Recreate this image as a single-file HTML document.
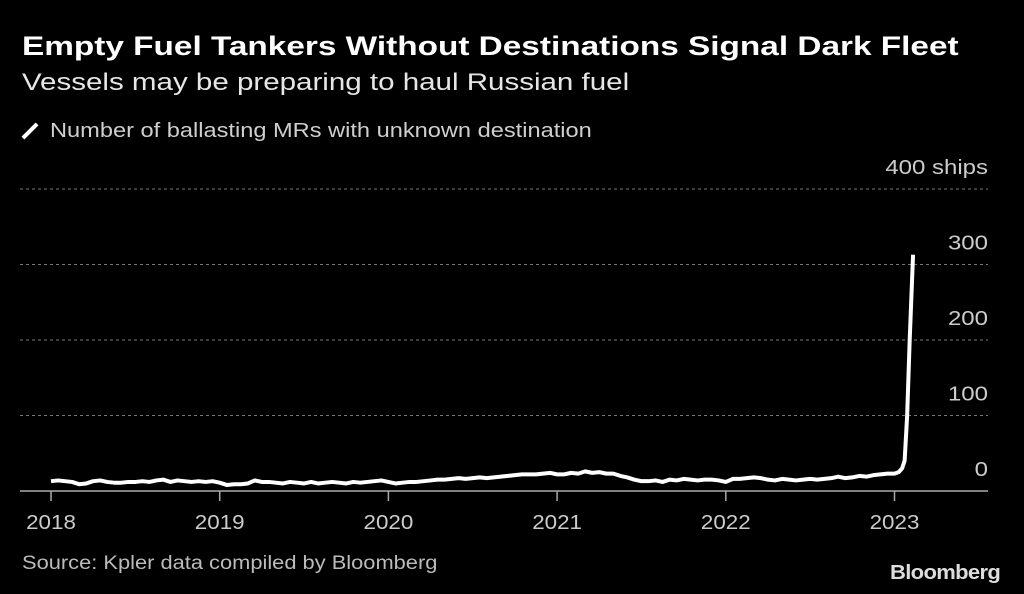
<!DOCTYPE html>
<html><head><meta charset="utf-8"><style>
body{margin:0;background:#000;width:1024px;height:594px;overflow:hidden;font-family:"Liberation Sans",sans-serif;position:relative}
.t{position:absolute;white-space:nowrap;transform-origin:left top}
</style></head><body>
<div class="t" style="left:22px;top:31px;font-size:27px;font-weight:bold;color:#fff;transform:scaleX(1.235)">Empty Fuel Tankers Without Destinations Signal Dark Fleet</div>
<div class="t" style="left:22px;top:69px;font-size:24px;color:#e6e6e6;transform:scaleX(1.23)">Vessels may be preparing to haul Russian fuel</div>
<div class="t" style="left:22px;top:120px;font-size:20px;color:#cfcfcf"><span style="display:inline-block;width:4px;height:20px;background:#fff;transform:rotate(45deg);margin:0 18px -4px 6px;vertical-align:baseline"></span><span style="display:inline-block;transform:scaleX(1.18);transform-origin:left">Number of ballasting MRs with unknown destination</span></div>
<div class="t" style="left:22px;top:553px;font-size:19px;color:#bbb;transform:scaleX(1.15)">Source: Kpler data compiled by Bloomberg</div>
<div class="t" style="left:890px;top:562px;font-size:20px;font-weight:bold;color:#ddd;letter-spacing:-0.6px;transform:scaleX(1.1)">Bloomberg</div>
<svg id="chart" width="1024" height="594" style="position:absolute;left:0;top:0"></svg>
<script>
const yTicks=[0,100,200,300,400];
const yTickLabels=["0","100","200","300","400 ships"];
const xTicks=[2018,2019,2020,2021,2022,2023];
const xTickLabels=["2018","2019","2020","2021","2022","2023"];
const baseValues=[13,14,13,12,9,10,13,14,12,11,11,12,12,13,12,14,15,12,14,13,12,13,12,13,
11,8,9,9,10,14,12,12,11,10,12,11,10,12,10,11,12,11,10,12,11,12,13,14,
12,10,11,12,12,13,14,15,15,16,17,16,17,18,17,18,19,20,21,22,22,22,23,24,
22,22,24,23,26,24,25,23,23,20,18,15,13,13,14,12,15,14,16,15,14,15,15,14,
12,16,16,17,18,17,15,14,16,15,14,15,16,15,16,17,19,17,18,20,19,21,22,23];
const spikeDates=[2023.0,2023.025,2023.045,2023.06,2023.075,2023.09,2023.11];
const spikeValues=[23,25,30,40,100,200,313];
const NS="http://www.w3.org/2000/svg";
const svg=document.getElementById('chart');
const xS=yr=>51+(yr-2018)*168.7;
const yS=v=>491-v*0.755;
function mk(tag,attrs){const e=document.createElementNS(NS,tag);for(const k in attrs)e.setAttribute(k,attrs[k]);svg.appendChild(e);return e;}
yTicks.forEach((v,i)=>{
  if(v>0){const g=mk('line',{x1:20,x2:988,y1:yS(v),y2:yS(v),stroke:'#777','stroke-width':1,'stroke-dasharray':'3,3'});
  
  }
  const t=mk('text',{x:0,y:0,transform:'translate(988,'+(yS(v)-15)+') scale(1.2,1)','text-anchor':'end','font-size':20,fill:'#ccc','font-family':'Liberation Sans, sans-serif'});
  t.textContent=yTickLabels[i];
  
  
});
const ax=mk('line',{x1:20,x2:988,y1:491,y2:491,stroke:'#aaa','stroke-width':1.5});


xTicks.forEach((yr,i)=>{
  const tk=mk('line',{x1:xS(yr),x2:xS(yr),y1:491,y2:501,stroke:'#aaa','stroke-width':1.5});
  
  
  const t=mk('text',{x:0,y:0,transform:'translate('+xS(yr)+',529) scale(1.12,1)','text-anchor':'middle','font-size':20,fill:'#ccc','font-family':'Liberation Sans, sans-serif'});
  t.textContent=xTickLabels[i];
  
  
});
const pts=[];
baseValues.forEach((v,i)=>pts.push([xS(2018+i/24),yS(v)]));
spikeDates.forEach((d,i)=>pts.push([xS(d),yS(spikeValues[i])]));
const line=mk('polyline',{points:pts.map(p=>p.join(',')).join(' '),fill:'none',stroke:'#fff','stroke-width':4,'stroke-linejoin':'round'});


</script>
</body></html>
